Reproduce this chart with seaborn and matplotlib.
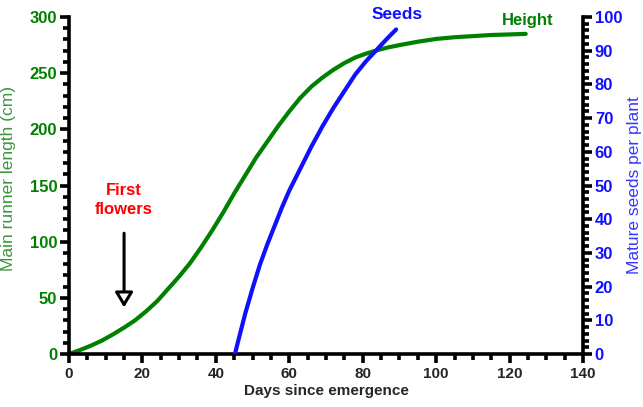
import numpy as np
import pandas as pd
import matplotlib
matplotlib.use("Agg")
import matplotlib.pyplot as plt
import seaborn as sns
from matplotlib.ticker import MultipleLocator

# values
height_days = [0, 3, 6, 9, 12, 15, 18, 21, 24, 27, 30, 33, 36, 39, 42, 45, 48, 51,
               54, 57, 60, 63, 66, 69, 72, 75, 78, 81, 84, 87, 90, 95, 100, 105,
               110, 115, 120, 124.4]
height_cm = [0, 3.5, 7.5, 12, 17.5, 23.5, 30, 38, 47, 58, 69, 81, 95, 110, 126,
             143, 159, 175, 189, 203, 216, 228, 238, 246, 253, 259, 264, 267.5,
             270.5, 273, 275, 278, 280.5, 282, 283, 284, 284.5, 285]

seed_days = [45.2, 46, 48, 50, 52, 54, 56, 58, 60, 63, 66, 69, 72, 75, 78, 81,
             84, 87, 89.1]
seed_count = [0, 3.5, 12, 19.5, 26.5, 32.5, 38, 43.5, 48.5, 55, 61.5, 67.5, 73,
              78, 83, 87, 90.5, 94, 96.3]

x_ticks = [0, 20, 40, 60, 80, 100, 120, 140]
left_ticks = [0, 50, 100, 150, 200, 250, 300]
right_ticks = [0, 10, 20, 30, 40, 50, 60, 70, 80, 90, 100]

height_df = pd.DataFrame({"days": height_days, "cm": height_cm})
seed_df = pd.DataFrame({"days": seed_days, "seeds": seed_count})

sns.set_style("ticks")
plt.rcParams["font.family"] = ["Liberation Sans", "DejaVu Sans"]

green = "#008000"
blue = "#1010ff"

fig = plt.figure(figsize=(6.43, 4.07), dpi=100)
ax = fig.add_axes([0.1073, 0.1302, 0.7994, 0.828])
ax2 = ax.twinx()

sns.lineplot(data=height_df, x="days", y="cm", ax=ax, color=green, lw=3)
sns.lineplot(data=seed_df, x="days", y="seeds", ax=ax2, color=blue, lw=3)

ax.set_xlim(0, 140)
ax.set_ylim(0, 300)
ax2.set_ylim(0, 100)

ax.set_xticks(x_ticks)
ax.set_yticks(left_ticks)
ax2.set_yticks(right_ticks)
ax.xaxis.set_minor_locator(MultipleLocator(5))
ax.yaxis.set_minor_locator(MultipleLocator(10))
ax2.yaxis.set_minor_locator(MultipleLocator(2))

for a in (ax, ax2):
    for s in a.spines.values():
        s.set_linewidth(2.6)
        s.set_color("black")
    a.spines["top"].set_visible(False)
    a.tick_params(which="major", length=6.5, width=2.6, color="black")
    a.tick_params(which="minor", length=4, width=2.6, color="black")

ax.spines["right"].set_visible(False)
ax2.spines["left"].set_visible(False)
ax2.spines["bottom"].set_visible(False)

ax.tick_params(axis="x", labelsize=11, pad=3)
ax.tick_params(axis="y", labelsize=12, labelcolor=green, pad=2)
ax2.tick_params(axis="y", labelsize=12, labelcolor=blue, pad=2)
for lab in ax.get_xticklabels() + ax.get_yticklabels() + ax2.get_yticklabels():
    lab.set_fontweight("bold")

ax.set_xlabel("Days since emergence", fontsize=11, fontweight="bold", labelpad=2)
ax.set_ylabel("Main runner length (cm)", fontsize=12.5, color="#3c963c")
ax2.set_ylabel("Mature seeds per plant", fontsize=12.5, color="#3838ff")
ax.yaxis.set_label_coords(-0.103, 0.52)
ax2.yaxis.set_label_coords(1.086, 0.5)

# annotations
ax.annotate("", xy=(15, 39), xytext=(15, 110),
            arrowprops=dict(arrowstyle="-|>,head_length=0.45,head_width=0.27",
                            mutation_scale=20, fc="white", ec="black", lw=2.2))
ax.text(15, 137, "First\nflowers", color="red", fontsize=12, fontweight="bold",
        ha="center", va="center", linespacing=1.3)
ax.text(89.3, 302, "Seeds", color=blue, fontsize=12.5, fontweight="bold",
        ha="center", va="center", clip_on=False)
ax.text(125, 297, "Height", color=green, fontsize=12, fontweight="bold",
        ha="center", va="center", clip_on=False)

fig.savefig("out.png", dpi=100)
